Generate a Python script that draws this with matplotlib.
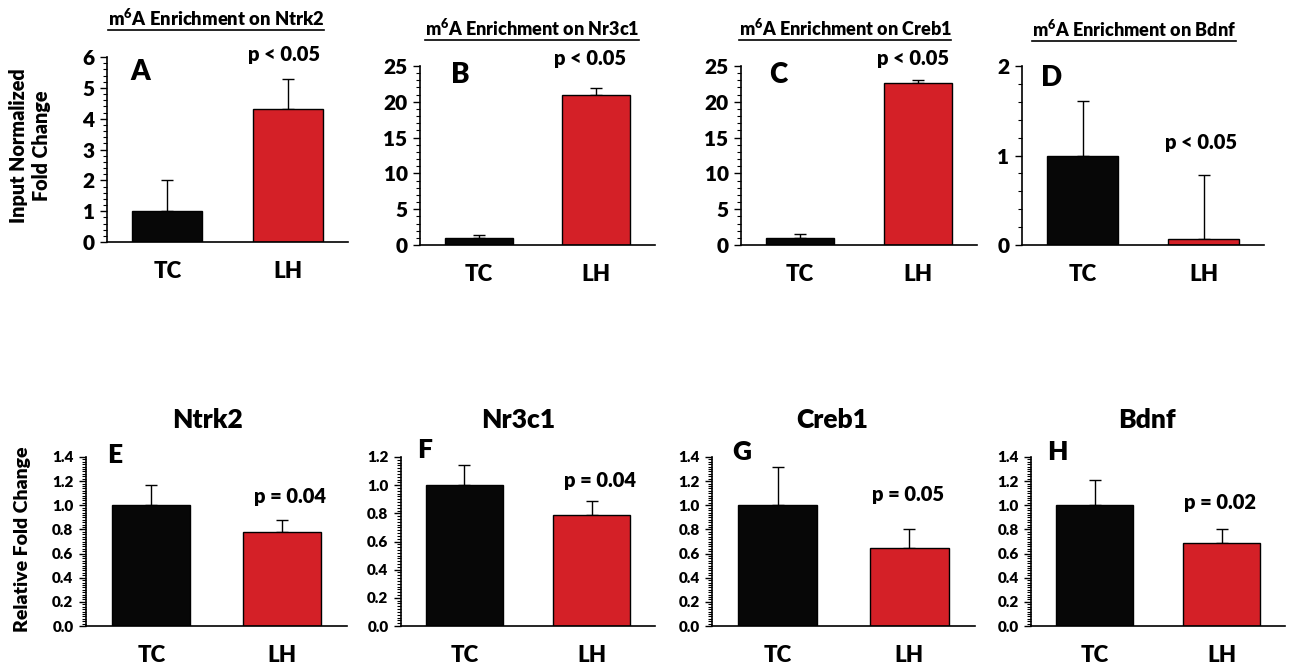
import matplotlib
matplotlib.use("Agg")
import matplotlib.pyplot as plt
from matplotlib.ticker import MultipleLocator, FormatStrFormatter
from matplotlib.lines import Line2D

WT = 'heavy'
plt.rcParams['font.family'] = ['Lato', 'DejaVu Sans']
plt.rcParams['font.weight'] = WT
plt.rcParams['mathtext.fontset'] = 'custom'
plt.rcParams['mathtext.rm'] = 'Lato:' + WT
plt.rcParams['mathtext.bf'] = 'Lato:' + WT
plt.rcParams['mathtext.default'] = 'rm'

groups = ['TC', 'LH']
genes = ['Ntrk2', 'Nr3c1', 'Creb1', 'Bdnf']
letters_top = ['A', 'B', 'C', 'D']
letters_bot = ['E', 'F', 'G', 'H']

# m6A enrichment (input normalized fold change)
m6a_mean = [[1.0, 4.3], [1.0, 21.0], [1.0, 22.6], [1.0, 0.07]]
m6a_err = [[1.0, 1.0], [0.4, 0.9], [0.6, 0.4], [0.61, 0.71]]
m6a_p = ['p < 0.05', 'p < 0.05', 'p < 0.05', 'p < 0.05']

# mRNA relative fold change
rel_mean = [[1.0, 0.78], [1.0, 0.79], [1.0, 0.65], [1.0, 0.69]]
rel_err = [[0.17, 0.10], [0.14, 0.10], [0.32, 0.15], [0.21, 0.11]]
rel_p = ['p = 0.04', 'p = 0.04', 'p = 0.05', 'p = 0.02']

W, H = 1290, 666
colors = ['#070707', '#d42027']

fig = plt.figure(figsize=(W / 100, H / 100), dpi=100)


def px(x, y):
    return x / W, 1 - y / H


def make_ax(l, r, t, b):
    return fig.add_axes([l / W, 1 - b / H, (r - l) / W, (b - t) / H])


# layout in pixels: left, right, top, bottom
top_boxes = [(107, 348, 57, 242), (420, 655, 66, 245), (741, 977, 66, 245), (1022, 1264, 66, 245)]
bot_boxes = [(86, 347, 457, 626), (401, 655, 457, 626), (712, 975, 457, 626), (1031, 1285, 457, 626)]
top_ylim = [6, 25, 25, 2]
top_major = [1, 5, 5, 1]
top_minor = [0.2, 1, 1, 0.2]
bot_ylim = [1.4, 1.2, 1.4, 1.4]
top_title_pos = [(216, 18), (532, 28), (845, 28), (1134, 29)]
top_title_fs = [13.2, 13, 13, 13]
top_letter_pos = [(140, 72), (460, 75), (778, 75), (1052, 78)]
top_p_pos = [(284, 55), (590, 58), (913, 58), (1201, 142)]
bot_title_pos = [(207, 420), (518, 420), (832, 420), (1147, 420)]
bot_letter_pos = [(115, 455), (425, 450), (742, 452), (1057, 452)]
bot_p_pos = [(290, 497), (600, 480), (908, 495), (1220, 503)]


def style(ax, ymax, major, minor, fmt, fs_tick, fs_x, width, pad, means, errs):
    x = [0, 1]
    ax.bar(x, means, width=width, color=colors, edgecolor='black', linewidth=1, zorder=2)
    ax.errorbar(x, means, yerr=[[0, 0], errs], fmt='none', ecolor='black',
                elinewidth=1, capsize=4, capthick=1, zorder=1)
    ax.set_xlim(-0.5, 1.5)
    ax.set_ylim(0, ymax)
    ax.yaxis.set_major_locator(MultipleLocator(major))
    ax.yaxis.set_minor_locator(MultipleLocator(minor))
    ax.yaxis.set_major_formatter(FormatStrFormatter(fmt))
    ax.set_xticks(x)
    ax.set_xticklabels(groups, fontsize=fs_x, fontweight=WT)
    ax.tick_params(axis='x', length=0, pad=pad)
    ax.tick_params(axis='y', which='major', length=5, width=1, labelsize=fs_tick, pad=4)
    ax.tick_params(axis='y', which='minor', length=3, width=0.8)
    for s in ['top', 'right']:
        ax.spines[s].set_visible(False)
    for s in ['left', 'bottom']:
        ax.spines[s].set_linewidth(1.2)


titles = []
for i in range(4):
    ax = make_ax(*top_boxes[i])
    style(ax, top_ylim[i], top_major[i], top_minor[i], '%d', 15, 16, 0.58, 14,
          m6a_mean[i], m6a_err[i])
    t = fig.text(*px(*top_title_pos[i]), 'm$^{6}$A Enrichment on ' + genes[i],
                 ha='center', va='center', fontsize=top_title_fs[i], fontweight=WT)
    titles.append(t)
    fig.text(*px(*top_letter_pos[i]), letters_top[i], ha='center', va='center',
             fontsize=20, fontweight=WT)
    fig.text(*px(*top_p_pos[i]), m6a_p[i], ha='center', va='center',
             fontsize=14.5, fontweight=WT)

for i in range(4):
    ax = make_ax(*bot_boxes[i])
    style(ax, bot_ylim[i], 0.2, 0.02, '%.1f', 11, 16, 0.6, 14,
          rel_mean[i], rel_err[i])
    fig.text(*px(*bot_title_pos[i]), genes[i], ha='center', va='center',
             fontsize=19, fontweight=WT)
    fig.text(*px(*bot_letter_pos[i]), letters_bot[i], ha='center', va='center',
             fontsize=19, fontweight=WT)
    fig.text(*px(*bot_p_pos[i]), rel_p[i], ha='center', va='center',
             fontsize=14.5, fontweight=WT)

fig.text(*px(30, 146), 'Input Normalized\nFold Change', rotation=90, ha='center',
         va='center', fontsize=14.2, fontweight=WT, linespacing=1.2)
fig.text(*px(23, 539), 'Relative Fold Change', rotation=90, ha='center',
         va='center', fontsize=14, fontweight=WT)

# underline the top titles
fig.canvas.draw()
inv = fig.transFigure.inverted()
for t in titles:
    bb = t.get_window_extent()
    (x0, y0), (x1, _) = inv.transform([(bb.x0, bb.y0 - 1), (bb.x1, bb.y0)])
    fig.add_artist(Line2D([x0, x1], [y0, y0], transform=fig.transFigure,
                          color='black', linewidth=1.2))

fig.savefig('out.png', dpi=100)
